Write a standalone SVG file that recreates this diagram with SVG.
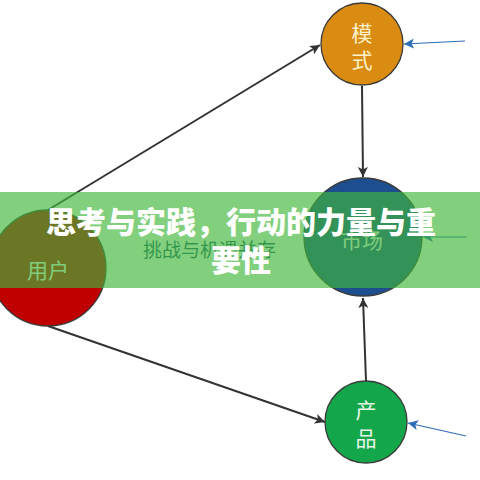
<svg xmlns="http://www.w3.org/2000/svg" width="480" height="480" viewBox="0 0 480 480">
<style>
.node{stroke:#3a3a3a;stroke-width:1.3}
.lbl{font-family:"Noto Sans CJK SC","Noto Sans",sans-serif;font-size:21px;text-anchor:middle}
.dark{fill:none;stroke:#333333;stroke-width:2}
.blue{fill:none;stroke:#2F6DB5;stroke-width:1.2}
.title{font-family:"Noto Sans CJK SC","Noto Sans",sans-serif;font-size:30px;font-weight:900;fill:#FFFFFF;text-anchor:middle}
</style>
<defs>
<marker id="ad" markerUnits="userSpaceOnUse" markerWidth="12" markerHeight="10" refX="10" refY="5" orient="auto">
<path d="M0,0 L10,5 L0,10 L2.5,5 Z" fill="#333333"/>
</marker>
<marker id="ab" markerUnits="userSpaceOnUse" markerWidth="12" markerHeight="10" refX="10" refY="5" orient="auto">
<path d="M0,0 L10,5 L0,10 L2.5,5 Z" fill="#2F6DB5"/>
</marker>
</defs>
<rect width="480" height="480" fill="#FFFFFF"/>
<g id="node-moshi">
<circle class="node" cx="362" cy="44" r="41" fill="#D98B12"/>
<text class="lbl" x="362" y="41" fill="#FFF3CC">模</text>
<text class="lbl" x="362" y="68" fill="#FFF3CC">式</text>
</g>
<g id="node-shichang">
<circle class="node" cx="363" cy="237" r="59" fill="#1C4E90"/>
<text class="lbl" x="362" y="248" fill="#F2F6FA">市场</text>
</g>
<g id="node-yonghu">
<circle class="node" cx="48" cy="268" r="58" fill="#C00000"/>
<text class="lbl" x="48" y="278" fill="#F6F6F0">用户</text>
</g>
<g id="node-chanpin">
<circle class="node" cx="366" cy="422" r="41" fill="#13A64A"/>
<text class="lbl" x="366" y="418" fill="#E8F6E8">产</text>
<text class="lbl" x="366" y="446" fill="#E8F6E8">品</text>
</g>
<g id="connectors">
<line class="dark" x1="48" y1="210" x2="320" y2="45" marker-end="url(#ad)"/>
<line class="dark" x1="48" y1="326" x2="325" y2="422" marker-end="url(#ad)"/>
<line class="dark" x1="362" y1="86" x2="363" y2="177" marker-end="url(#ad)"/>
<line class="dark" x1="366" y1="381" x2="363" y2="298" marker-end="url(#ad)"/>
<line class="blue" x1="465" y1="41" x2="404" y2="44" marker-end="url(#ab)"/>
<line class="blue" x1="467" y1="237" x2="423" y2="237" marker-end="url(#ab)"/>
<line class="blue" x1="466" y1="436" x2="408" y2="423" marker-end="url(#ab)"/>
</g>
<text x="143" y="257" font-family="Liberation Serif,'Noto Sans CJK SC',serif" font-size="19" fill="#1E5A70">挑战与机遇并存</text>
<rect x="0" y="192" width="480" height="96" fill="#3FB739" fill-opacity="0.65"/>
<text class="title" x="241" y="233">思考与实践，行动的力量与重</text>
<text class="title" x="241" y="271">要性</text>
</svg>
